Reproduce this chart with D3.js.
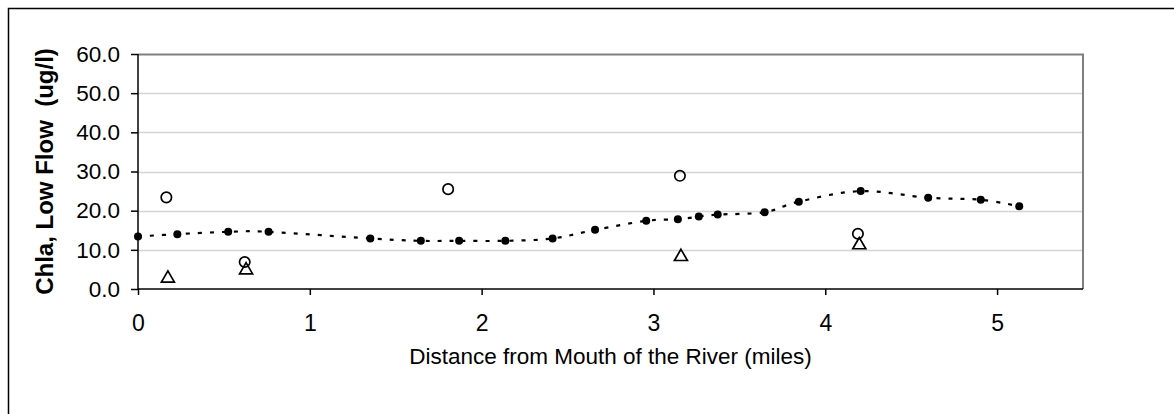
<!DOCTYPE html>
<html>
<head>
<meta charset="utf-8">
<script src="https://cdn.jsdelivr.net/npm/d3@7"></script>
<style>
  body { margin: 0; background: #fff; }
  svg { display: block; font-family: "Liberation Sans", Arial, sans-serif; }
</style>
</head>
<body>
<div id="chart"></div>
<script>
// distance from mouth (miles) and chla (ug/l)
var distModel = [0, 0.229, 0.525, 0.76, 1.352, 1.646, 1.869, 2.138, 2.413, 2.66, 2.958, 3.142, 3.264, 3.374, 3.647, 3.846, 4.206, 4.599, 4.905, 5.129];
var chlaModel = [13.4, 14.0, 14.6, 14.6, 12.9, 12.3, 12.3, 12.3, 12.9, 15.1, 17.4, 17.8, 18.5, 19.0, 19.6, 22.3, 25.0, 23.3, 22.8, 21.1];

var distCircle = [0.165, 0.621, 1.805, 3.154, 4.19];
var chlaCircle = [23.4, 6.9, 25.5, 28.9, 14.1];

var distTriangle = [0.174, 0.629, 3.16, 4.198];
var chlaTriangle = [3.1, 5.2, 8.6, 11.6];

var xTicks = [0, 1, 2, 3, 4, 5];
var yTicks = [0, 10, 20, 30, 40, 50, 60];

var W = 1174, H = 414;
var margin = {top: 54, right: 91, bottom: 125, left: 138},
    width = W - margin.left - margin.right,
    height = H - margin.top - margin.bottom;

var svg = d3.select("#chart").append("svg")
    .attr("width", W)
    .attr("height", H);

// outer chart border (runs off the right and bottom edges)
svg.append("rect")
    .attr("x", 8.5).attr("y", 8.5)
    .attr("width", W + 20).attr("height", H + 20)
    .attr("fill", "none")
    .attr("stroke", "#000")
    .attr("stroke-width", 1.5);

var g = svg.append("g")
    .attr("transform", "translate(" + margin.left + "," + margin.top + ")");

var x = d3.scaleLinear().domain([0, 5.5]).range([0, width]);
var y = d3.scaleLinear().domain([0, 60]).range([height, 0]);

// gridlines
g.append("g")
    .selectAll("line")
    .data(yTicks.filter(function(d) { return d > 0 && d < 60; }))
    .enter().append("line")
    .attr("x1", 0).attr("x2", width)
    .attr("y1", function(d) { return Math.round(y(d)) + 0.5; })
    .attr("y2", function(d) { return Math.round(y(d)) + 0.5; })
    .attr("stroke", "#d4d4d4")
    .attr("stroke-width", 1.5);

// plot frame top / right
g.append("path")
    .attr("d", "M0," + 0.5 + "H" + width + "V" + height)
    .attr("fill", "none")
    .attr("stroke", "#808080")
    .attr("stroke-width", 2);

// axes
var yAxis = g.append("g")
    .call(d3.axisLeft(y).tickValues(yTicks).tickSize(7).tickPadding(11)
        .tickFormat(d3.format(".1f")));
var xAxis = g.append("g")
    .attr("transform", "translate(0," + height + ")")
    .call(d3.axisBottom(x).tickValues(xTicks).tickSize(6).tickPadding(20)
        .tickFormat(d3.format("d")));

[yAxis, xAxis].forEach(function(a) {
    a.select(".domain").attr("stroke", "#000").attr("stroke-width", 1.5);
    a.selectAll(".tick line").attr("stroke", "#000").attr("stroke-width", 1.5);
    a.selectAll("text").attr("fill", "#000")
        .style("font-family", "'Liberation Sans', Arial, sans-serif");
});
yAxis.select(".domain").attr("d", "M0," + height + "V0");
yAxis.selectAll("text").style("font-size", "22.5px");
xAxis.select(".domain").attr("d", "M0,0H" + width);
xAxis.selectAll("text").style("font-size", "23px");

// axis titles
svg.append("text")
    .attr("transform", "translate(53," + (margin.top + height / 2) + ") rotate(-90)")
    .attr("text-anchor", "middle")
    .style("font-size", "24px")
    .style("font-weight", "bold")
    .attr("xml:space", "preserve")
    .text("Chla, Low Flow  (ug/l)");

svg.append("text")
    .attr("x", margin.left + width / 2)
    .attr("y", 364)
    .attr("text-anchor", "middle")
    .style("font-size", "22.5px")
    .text("Distance from Mouth of the River (miles)");

// smoothed dotted line through model points
var modelPts = distModel.map(function(d, i) { return [d, chlaModel[i]]; });
var line = d3.line()
    .x(function(d) { return x(d[0]); })
    .y(function(d) { return y(d[1]); })
    .curve(d3.curveCardinal.tension(0));

g.append("path")
    .datum(modelPts)
    .attr("d", line)
    .attr("fill", "none")
    .attr("stroke", "#000")
    .attr("stroke-width", 2.2)
    .attr("stroke-dasharray", "4,8");

g.append("g").selectAll("circle")
    .data(modelPts)
    .enter().append("circle")
    .attr("cx", function(d) { return x(d[0]); })
    .attr("cy", function(d) { return y(d[1]); })
    .attr("r", 4)
    .attr("fill", "#000");

// open circles
g.append("g").selectAll("circle")
    .data(distCircle.map(function(d, i) { return [d, chlaCircle[i]]; }))
    .enter().append("circle")
    .attr("cx", function(d) { return x(d[0]); })
    .attr("cy", function(d) { return y(d[1]); })
    .attr("r", 5.2)
    .attr("fill", "none")
    .attr("stroke", "#000")
    .attr("stroke-width", 1.7);

// open triangles
var tri = "M0,-6L6.5,5.2L-6.5,5.2Z";
g.append("g").selectAll("path")
    .data(distTriangle.map(function(d, i) { return [d, chlaTriangle[i]]; }))
    .enter().append("path")
    .attr("transform", function(d) { return "translate(" + x(d[0]) + "," + y(d[1]) + ")"; })
    .attr("d", tri)
    .attr("fill", "none")
    .attr("stroke", "#000")
    .attr("stroke-width", 1.7)
    .attr("stroke-linejoin", "miter");
</script>
</body>
</html>
